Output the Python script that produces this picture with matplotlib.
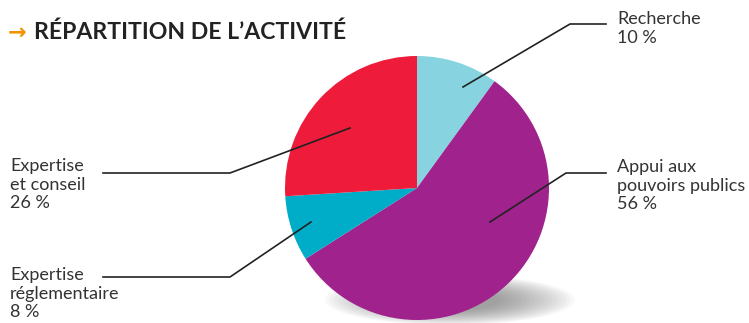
import matplotlib
matplotlib.use("Agg")
import matplotlib.pyplot as plt
from matplotlib.patches import Ellipse

# data
labels = ["Recherche", "Appui aux\npouvoirs publics", "Expertise\nréglementaire", "Expertise\net conseil"]
values = [10, 56, 8, 26]
colors = ["#87d3e0", "#a0228c", "#00adc8", "#ee1b3b"]
title = "RÉPARTITION DE L’ACTIVITÉ"

W, H = 749, 323
fig = plt.figure(figsize=(W / 100, H / 100), dpi=100)
ax = fig.add_axes([0, 0, 1, 1])

def Y(y):
    # pixel row -> axis y
    return H - y

cx, cy, r = 417, 188, 132

# soft shadow under the pie
for i in range(18):
    k = i / 17
    ax.add_patch(Ellipse((450, Y(300)), 250 - 150 * k, 50 - 28 * k,
                         color="#555555", alpha=0.04, lw=0, zorder=1))

ax.pie(values, colors=colors, startangle=90, counterclock=False,
       center=(cx, Y(cy)), radius=r, frame=True,
       wedgeprops=dict(linewidth=0, zorder=2))
ax.set_xlim(0, W)
ax.set_ylim(0, H)
ax.set_aspect("equal")
ax.axis("off")

txt = dict(family=["Lato", "DejaVu Sans"], fontsize=13,
           color="#333333", linespacing=1.2, va="top", ha="left")
lc = dict(color="#222222", lw=1.2, zorder=5)

# leader lines (pixel coords) and labels
leaders = [
    [(463, 87), (570, 24), (606, 24)],
    [(490, 222), (566, 173), (606, 173)],
    [(311, 222), (230, 277), (103, 277)],
    [(350, 128), (230, 173), (103, 173)],
]
label_pos = [(617, 11), (617, 159), (10, 267), (10, 158)]

for pts, (lx, ly), lab, v in zip(leaders, label_pos, labels, values):
    xs = [p[0] for p in pts]
    ys = [Y(p[1]) for p in pts]
    ax.plot(xs, ys, **lc)
    ax.text(lx, Y(ly), f"{lab}\n{v} %", **txt)

# title
ax.text(8, Y(33), "→", fontsize=16, fontweight="bold", color="#f39200",
        family="DejaVu Sans", va="center", ha="left")
ax.text(34, Y(32), title, fontsize=16.6, fontweight="bold", color="#222222",
        family=["Lato", "DejaVu Sans"], va="center", ha="left")

fig.savefig("out.png", dpi=100)
